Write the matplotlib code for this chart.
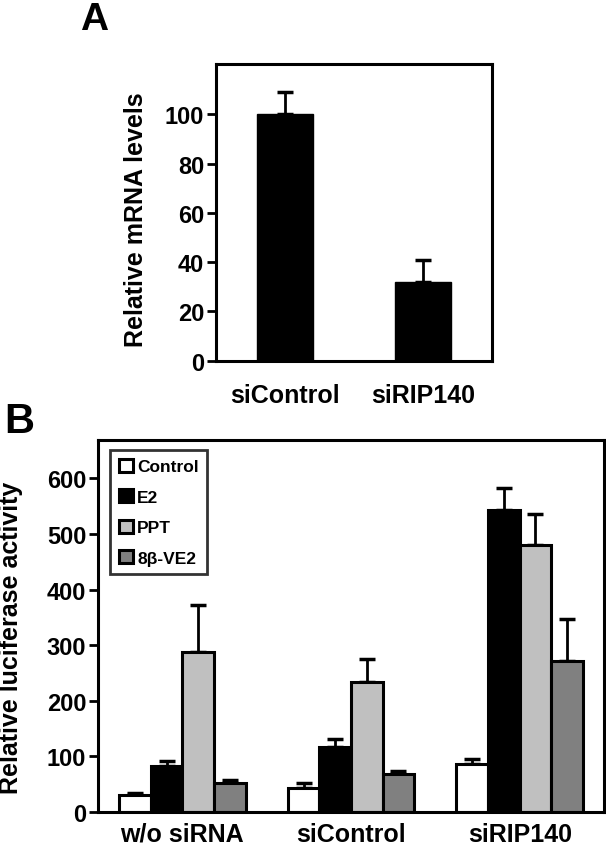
import numpy as np
import matplotlib.pyplot as plt

plt.rcParams['font.family'] = ['Liberation Sans', 'DejaVu Sans']
plt.rcParams['font.weight'] = 'bold'

# panel A data
a_groups = ['siControl', 'siRIP140']
a_vals = [100, 32]
a_err = [9, 9]

# panel B data
b_groups = ['w/o siRNA', 'siControl', 'siRIP140']
b_series = ['Control', 'E2', 'PPT', '8\u03b2-VE2']
b_colors = ['white', 'black', '#c0c0c0', '#808080']
b_control = [30, 44, 86]
b_e2 = [83, 116, 544]
b_ppt = [287, 233, 481]
b_ve2 = [53, 68, 272]
b_control_err = [5, 9, 9]
b_e2_err = [8, 15, 39]
b_ppt_err = [85, 42, 55]
b_ve2_err = [5, 6, 75]

fig = plt.figure(figsize=(6.06, 8.53), dpi=100)

# ---- panel A
axA = fig.add_axes([216/606, 1-361.7/853, 276/606, 296.7/853])
xa = np.arange(len(a_groups))
axA.bar(xa, a_vals, width=0.4, color='black', edgecolor='black')
axA.errorbar(xa, a_vals, yerr=[np.zeros(len(a_err)), a_err], fmt='none',
             ecolor='black', elinewidth=2, capsize=6, capthick=2.5)
axA.set_xlim(-0.5, 1.5)
axA.set_ylim(0, 120.5)
axA.set_yticks(range(0, 101, 20))
axA.set_xticks(xa)
axA.set_xticklabels(a_groups)
axA.set_ylabel('Relative mRNA levels', fontsize=18, fontweight='bold')
axA.yaxis.set_label_coords(-0.245, 0.48)

# ---- panel B
axB = fig.add_axes([98/606, 1-813/853, 506/606, 372/853])
xb = np.arange(len(b_groups))
w = 0.1875
vals = [b_control, b_e2, b_ppt, b_ve2]
errs = [b_control_err, b_e2_err, b_ppt_err, b_ve2_err]
for i in range(4):
    pos = xb + (i - 1.5) * w
    axB.bar(pos, vals[i], width=w, color=b_colors[i], edgecolor='black',
            linewidth=2.2, label=b_series[i], zorder=2)
    axB.errorbar(pos, vals[i], yerr=[np.zeros(3), errs[i]], fmt='none',
                 ecolor='black', elinewidth=2, capsize=6, capthick=2.5, zorder=1)
axB.set_xlim(-0.5, 2.5)
axB.set_ylim(0, 669)
axB.set_yticks(range(0, 601, 100))
axB.set_xticks(xb)
axB.set_xticklabels(b_groups)
axB.set_ylabel('Relative luciferase activity', fontsize=18, fontweight='bold')
axB.yaxis.set_label_coords(-0.148, 0.472)
leg = axB.legend(loc='upper left', bbox_to_anchor=(0.024, 0.973), borderaxespad=0,
                 fontsize=12.5, handlelength=0.8, handleheight=0.8, handletextpad=0.25,
                 labelspacing=0.85, fancybox=False, edgecolor='black',
                 borderpad=0.5)
leg.get_frame().set_linewidth(2)
for t in leg.get_texts():
    t.set_fontweight('bold')

for ax in (axA, axB):
    for s in ax.spines.values():
        s.set_linewidth(2.2)
    ax.tick_params(axis='y', direction='out', length=6.5, width=2, pad=2, labelsize=17)
    for lab in ax.get_xticklabels() + ax.get_yticklabels():
        lab.set_fontweight('bold')
axA.tick_params(axis='x', length=0, pad=16, labelsize=18)
axB.tick_params(axis='x', length=0, pad=7, labelsize=18)

fig.text(94/606, 1-30/853, 'A', fontsize=28, fontweight='bold', ha='center', va='baseline')
fig.text(19.5/606, 1-433/853, 'B', fontsize=30, fontweight='bold', ha='center', va='baseline')

fig.savefig('out.png', dpi=100)
